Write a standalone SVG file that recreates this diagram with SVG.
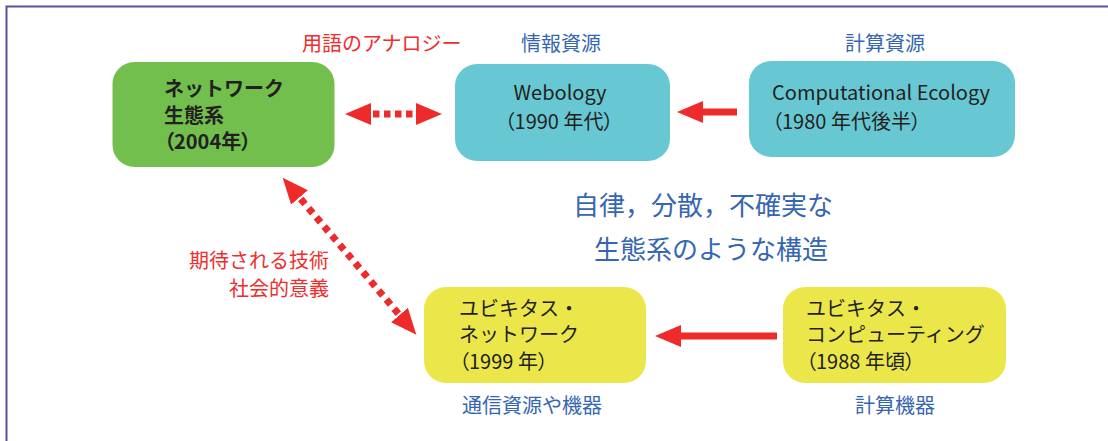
<svg xmlns="http://www.w3.org/2000/svg" width="1108" height="441" viewBox="0 0 1108 441">
<style>
text{font-family:"Noto Sans CJK JP","Noto Sans",sans-serif;font-size:20px}
.dark{fill:#231f20}
.bold{font-weight:bold}
.blue{fill:#3566b2}
.red{fill:#ee2d2d}
.big{font-size:26px}
.palt{font-feature-settings:"palt"}
.green{fill:#72bf4d}
.cyan{fill:#67c8d3}
.yellow{fill:#ebe74b}
.arr{stroke:#ee2a2a;stroke-width:7;fill:none;marker-end:url(#head)}
.dot{stroke-dasharray:6.5 4.5;stroke-dashoffset:9;marker-start:url(#head)}
</style>
<defs>
<marker id="head" viewBox="0 0 26 22" refX="0" refY="11" markerWidth="26" markerHeight="22" markerUnits="userSpaceOnUse" orient="auto-start-reverse">
<path d="M0,0 L26,11 L0,22 z" fill="#ee2a2a"/>
</marker>
</defs>
<rect width="1108" height="441" fill="#ffffff"/>
<path d="M6.5,441 V6.5 H1108" fill="none" stroke="#5c4e9d" stroke-width="2"/>

<g id="connectors">
<line class="arr dot" x1="371" y1="114" x2="416" y2="114"/>
<line class="arr" x1="737" y1="112" x2="703" y2="112"/>
<line class="arr" x1="777" y1="336" x2="681" y2="336"/>
<line class="arr dot" x1="299.5" y1="197.5" x2="399.5" y2="315" style="stroke-dasharray:6.5 5.5;stroke-dashoffset:10"/>
</g>

<g id="label-analogy"><text class="red" x="302" y="51">用語のアナロジー</text></g>
<g id="label-expected"><text class="red" text-anchor="end"><tspan x="329" y="268">期待される技術</tspan><tspan x="329" y="296">社会的意義</tspan></text></g>
<g id="label-center"><text class="blue big"><tspan x="573" y="215">自律，分散，不確実な</tspan><tspan x="594" y="259">生態系のような構造</tspan></text></g>

<g id="node-ecosystem">
<rect class="green" x="112.5" y="62" width="222" height="105" rx="22"/>
<text class="dark bold"><tspan x="164" y="96">ネットワーク</tspan><tspan x="164" y="122.5">生態系</tspan><tspan class="palt" x="164" y="149">（2004年）</tspan></text>
</g>

<g id="node-webology">
<text class="blue" x="561" y="51" text-anchor="middle">情報資源</text>
<rect class="cyan" x="455" y="64" width="215" height="97" rx="22"/>
<text class="dark" text-anchor="middle"><tspan x="560" y="100">Webology</tspan><tspan class="palt" x="559" y="129">（1990 年代）</tspan></text>
</g>

<g id="node-computational">
<text class="blue" x="885" y="51" text-anchor="middle">計算資源</text>
<rect class="cyan" x="749" y="61" width="266" height="96" rx="22"/>
<text class="dark"><tspan x="772" y="100">Computational Ecology</tspan><tspan class="palt" x="772" y="129">（1980 年代後半）</tspan></text>
</g>

<g id="node-ubinet">
<rect class="yellow" x="424" y="287" width="222" height="96" rx="22"/>
<text class="dark"><tspan x="459" y="315.5">ユビキタス・</tspan><tspan x="459" y="342">ネットワーク</tspan><tspan class="palt" x="459" y="368.5">（1999 年）</tspan></text>
<text class="blue" x="462" y="413">通信資源や機器</text>
</g>

<g id="node-ubicomp">
<rect class="yellow" x="783" y="287" width="223" height="96" rx="22"/>
<text class="dark"><tspan x="806" y="315.5">ユビキタス・</tspan><tspan x="806" y="342">コンピューティング</tspan><tspan class="palt" x="806" y="368.5">（1988 年頃）</tspan></text>
<text class="blue" x="895" y="413" text-anchor="middle">計算機器</text>
</g>
</svg>
